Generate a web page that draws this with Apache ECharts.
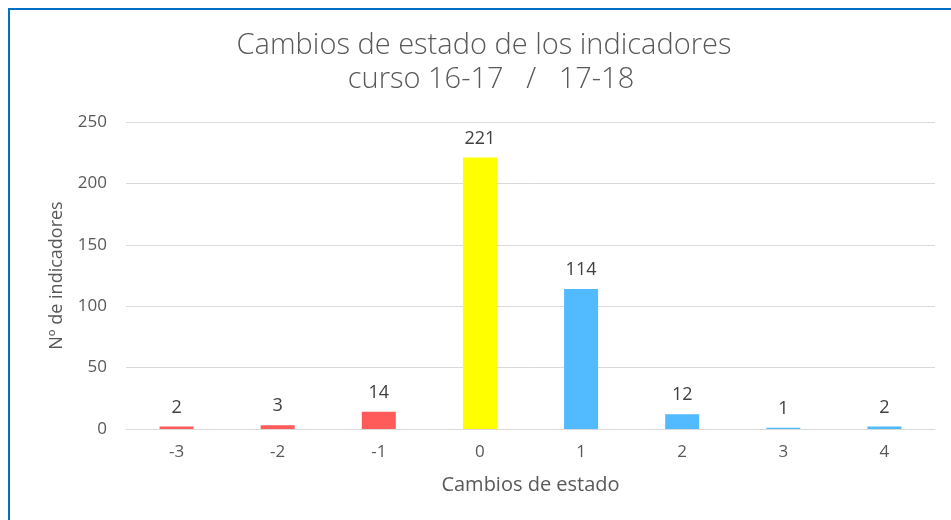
<!DOCTYPE html>
<html><head><meta charset="utf-8">
<script src="https://cdn.jsdelivr.net/npm/echarts@6/dist/echarts.min.js"></script>
<style>html,body{margin:0;padding:0;background:#fff}#c{width:951px;height:520px}</style>
</head><body><div id="c"></div>
<script>
const categories = ['-3','-2','-1','0','1','2','3','4'];
const values = [2, 3, 14, 221, 114, 12, 1, 2];
const barColors = ['#FF5B5B','#FF5B5B','#FF5B5B','#FFFF00','#52BAFF','#52BAFF','#52BAFF','#52BAFF'];
const yTicks = [0, 50, 100, 150, 200, 250];
const titleLines = ['Cambios de estado de los indicadores', 'curso 16-17   /   17-18'];

const chart = echarts.init(document.getElementById('c'), null, {renderer:'canvas'});
const font = '"Open Sans", sans-serif';
const titleStyle = {fontFamily:font, fontSize:29, fontWeight:300, color:'#595959'};
chart.setOption({
  animation:false,
  backgroundColor:'#fff',
  graphic:[{type:'rect', shape:{x:9,y:9,width:1000,height:600}, style:{fill:'none',stroke:'#0070C0',lineWidth:2}}],
  title:[
    {text:titleLines[0], top:31, left:484, textAlign:'center', padding:0, textStyle:titleStyle},
    {text:titleLines[1], top:65, left:491, textAlign:'center', padding:0, textStyle:titleStyle}
  ],
  grid:{left:126, right:16, top:122, bottom:91, containLabel:false},
  xAxis:{
    type:'category', data:categories,
    name:'Cambios de estado', nameLocation:'middle', nameGap:46,
    nameTextStyle:{fontFamily:font, fontSize:20, color:'#595959'},
    axisLine:{lineStyle:{color:'#D9D9D9', width:1}},
    axisTick:{show:false},
    axisLabel:{fontFamily:font, fontSize:17, color:'#595959', margin:15}
  },
  yAxis:{
    type:'value', min:yTicks[0], max:yTicks[yTicks.length-1], interval:50,
    name:'Nº de indicadores', nameLocation:'middle', nameGap:60,
    nameTextStyle:{fontFamily:font, fontSize:18, color:'#595959'},
    axisLine:{show:false}, axisTick:{show:false},
    splitLine:{lineStyle:{color:'#D9D9D9', width:1}},
    axisLabel:{fontFamily:font, fontSize:17, color:'#595959', margin:19}
  },
  series:[{
    type:'bar', barWidth:34,
    data: values.map((v,i)=>({value:v, itemStyle:{color:barColors[i]}})),
    label:{show:true, position:'top', distance:10, fontFamily:font, fontSize:18, color:'#404040'}
  }]
});
</script></body></html>
